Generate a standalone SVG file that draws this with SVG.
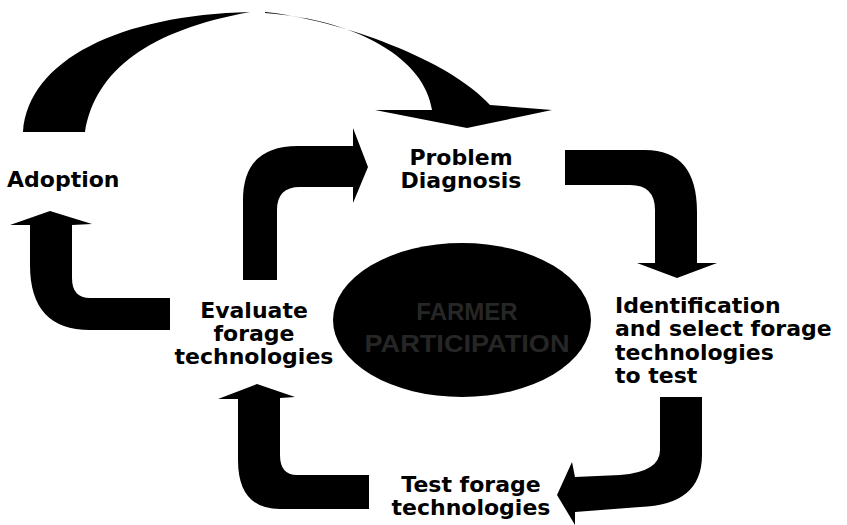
<svg xmlns="http://www.w3.org/2000/svg" width="847" height="525" viewBox="0 0 847 525">
<style>
.lbl{font-family:"DejaVu Sans",Verdana,sans-serif;font-weight:bold;font-size:22px;fill:#000}
.arrow{fill:#000;stroke:none}
.core{font-family:"Liberation Sans",Arial,sans-serif;font-weight:bold;font-size:24px;fill:#262626}
</style>
<rect width="847" height="525" fill="#fff"/>
<g id="connectors">
  <path class="arrow" d="M23,132 C28,60 120,15 250,12 C150,30 95,70 85,132 Z"/>
  <path class="arrow" d="M265,12 C340,20 450,60 490,105 L552,110 L467,128 L375,110 L432,110 C425,60 360,20 265,13 Z"/>
  <path class="arrow" d="M243,280 L243,200 Q243,146 298,146 L353,146 L353,128 L368,167 L353,203 L353,187 L300,187 Q277,187 277,210 L277,280 Z"/>
  <path class="arrow" d="M565,150 L645,150 Q697,150 697,212 L697,263 L717,263 L677,278 L637,263 L655,263 L655,210 Q655,185 630,185 L565,185 Z"/>
  <path class="arrow" d="M660,397 L702,397 L702,455 Q702,505 640,507 L575,512 L575,525 L557,495 L572,462 L575,477 L620,475 Q660,472 660,450 Z"/>
  <path class="arrow" d="M369,475 L297,475 Q280,475 280,455 L280,398 L295,397 L257,384 L218,399 L238,399 L238,460 Q238,509 280,509 L369,509 Z"/>
  <path class="arrow" d="M170,298 L90,298 Q72,298 72,278 L72,225 L92,224 L50,211 L10,225 L30,225 L30,265 Q30,330 90,330 L170,330 Z"/>
</g>
<g id="adoption">
  <text class="lbl" x="7" y="187" font-size="23">Adoption</text>
</g>
<g id="problem-diagnosis">
  <text class="lbl" x="461" y="165" text-anchor="middle">Problem</text>
  <text class="lbl" x="461" y="188" text-anchor="middle">Diagnosis</text>
</g>
<g id="identification">
  <text class="lbl" x="615" y="313">Identification</text>
  <text class="lbl" x="615" y="336">and select forage</text>
  <text class="lbl" x="615" y="360">technologies</text>
  <text class="lbl" x="615" y="383">to test</text>
</g>
<g id="test-forage">
  <text class="lbl" x="471" y="492" text-anchor="middle">Test forage</text>
  <text class="lbl" x="471" y="515" text-anchor="middle">technologies</text>
</g>
<g id="evaluate">
  <text class="lbl" x="254" y="318" text-anchor="middle">Evaluate</text>
  <text class="lbl" x="254" y="341" text-anchor="middle">forage</text>
  <text class="lbl" x="254" y="364" text-anchor="middle">technologies</text>
</g>
<g id="participation">
  <ellipse cx="462" cy="320" rx="129" ry="77" fill="#000"/>
  <text class="core" x="467" y="320" text-anchor="middle" font-size="20">FARMER</text>
  <text class="core" x="467" y="352" text-anchor="middle" textLength="205" lengthAdjust="spacingAndGlyphs">PARTICIPATION</text>
</g>
</svg>
